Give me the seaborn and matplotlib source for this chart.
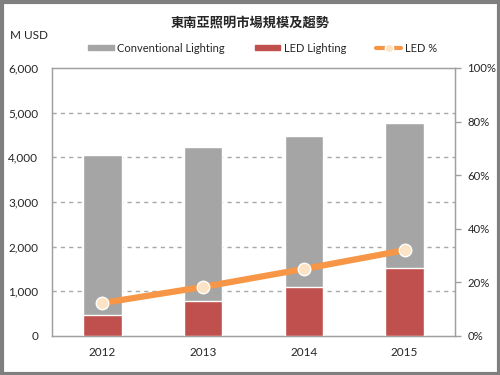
import matplotlib
matplotlib.use("Agg")
import matplotlib.pyplot as plt
import matplotlib.patches as mpatches
from matplotlib.lines import Line2D
import numpy as np
import pandas as pd
import seaborn as sns

years = ["2012", "2013", "2014", "2015"]
conventional = [3570, 3450, 3370, 3250]
led = [480, 780, 1100, 1520]
led_pct = [12.3, 18.3, 25.0, 32.0]

left_ticks = [0, 1000, 2000, 3000, 4000, 5000, 6000]
right_ticks = [0, 20, 40, 60, 80, 100]

df = pd.DataFrame({"year": years, "conv": conventional, "led": led, "pct": led_pct})
df["total"] = df["conv"] + df["led"]

sns.set_style("white")
plt.rcParams["font.family"] = ["Lato", "Noto Sans CJK TC", "DejaVu Sans"]

gray = "#A5A5A5"
red = "#C0504D"
orange = "#F79646"

fig = plt.figure(figsize=(5, 3.75), dpi=100)
ax = fig.add_axes([0.104, 0.104, 0.806, 0.715])

# dashed grid behind the bars
for y in left_ticks[1:-1]:
    ax.axhline(y, color="#A8A8A8", lw=1, ls=(0, (3, 3)), zorder=0)

sns.barplot(data=df, x="year", y="total", color=gray, width=0.38,
            saturation=1, edgecolor="white", linewidth=1, ax=ax, zorder=2)
sns.barplot(data=df, x="year", y="led", color=red, width=0.38,
            saturation=1, edgecolor="white", linewidth=1, ax=ax, zorder=3)

ax.set_xlim(-0.5, 3.5)
ax.set_ylim(0, 6000)
ax.set_yticks(left_ticks)
ax.set_yticklabels([f"{v:,}" for v in left_ticks])
ax.set_xlabel("")
ax.set_ylabel("")
ax.tick_params(axis="both", length=0, labelsize=8.5, colors="#262626")
ax.tick_params(axis="x", pad=8)
ax.tick_params(axis="y", pad=10)
for s in ax.spines.values():
    s.set_color("#A0A0A0")
    s.set_linewidth(1)

ax2 = ax.twinx()
sns.pointplot(data=df, x="year", y="pct", color=orange, ax=ax2,
              linewidth=4.5, markersize=9, markerfacecolor="#FDE3C6",
              markeredgecolor="white", markeredgewidth=1)
ax2.set_ylim(0, 100)
ax2.set_yticks(right_ticks)
ax2.set_yticklabels([f"{v}%" for v in right_ticks])
ax2.set_ylabel("")
ax2.set_xlim(-0.5, 3.5)
ax2.tick_params(axis="y", length=4, width=1, color="#A0A0A0",
                labelsize=8.2, labelcolor="#262626", pad=5)
for s in ax2.spines.values():
    s.set_color("#A0A0A0")

fig.text(0.5, 0.938, "東南亞照明市場規模及趨勢", ha="center", va="center",
         fontsize=9.5, fontweight="bold", family=["Noto Sans CJK TC", "DejaVu Sans"])
fig.text(0.02, 0.905, "M USD", ha="left", va="center", fontsize=8.5, color="#262626")

handles = [
    mpatches.Patch(color=gray),
    mpatches.Patch(color=red),
    Line2D([0], [0], color=orange, lw=3, marker="o", markersize=6,
           markerfacecolor="#FDE3C6", markeredgecolor="white"),
]
labels = ["Conventional Lighting", "LED Lighting", "LED %"]
fig.legend(handles, labels, loc="center", bbox_to_anchor=(0.525, 0.872), ncol=3,
           frameon=False, fontsize=8, handlelength=2.3, handleheight=0.4,
           handletextpad=0.3, columnspacing=2.7)

fig.add_artist(mpatches.Rectangle((0.003, 0.004), 0.994, 0.992, transform=fig.transFigure,
                                  fill=False, edgecolor="#7F7F7F", lw=3))

fig.savefig("out.png", dpi=100)
